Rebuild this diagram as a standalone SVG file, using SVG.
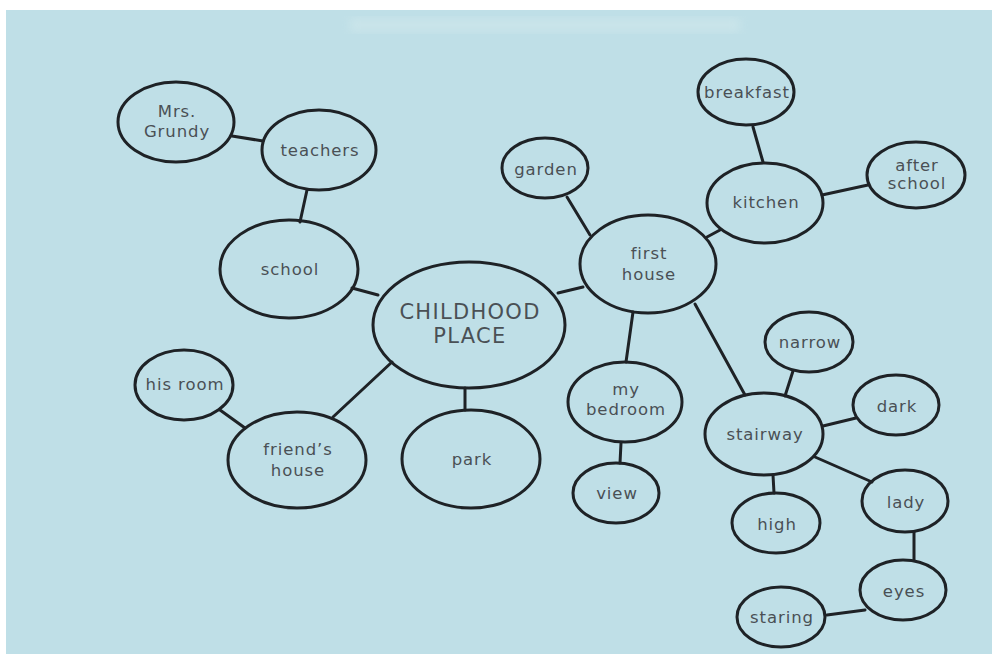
<svg xmlns="http://www.w3.org/2000/svg" width="992" height="658" viewBox="0 0 992 658">
<defs>
<style>
.n ellipse{fill:none;stroke:#1e2226;stroke-width:3}
.n text{font-family:"DejaVu Sans","Liberation Sans",sans-serif;font-size:16.5px;letter-spacing:0.9px;fill:#4a5055;text-anchor:middle;dominant-baseline:central}
.big text{font-size:21px;letter-spacing:1.3px}
#edges line{stroke:#1e2226;stroke-width:3;stroke-linecap:round}
</style>
<filter id="blur"><feGaussianBlur stdDeviation="5"/></filter>
</defs>
<rect x="0" y="0" width="992" height="658" fill="#ffffff"/>
<rect x="6" y="10" width="986" height="644" fill="#bfdfe7"/>
<rect x="350" y="18" width="390" height="14" fill="#dff0f0" opacity="0.35" filter="url(#blur)"/>
<g id="edges">
<line x1="232" y1="136" x2="263" y2="141"/>
<line x1="307" y1="190" x2="300" y2="222"/>
<line x1="352" y1="288" x2="378" y2="295"/>
<line x1="392" y1="362" x2="333" y2="417"/>
<line x1="465" y1="388" x2="465" y2="410"/>
<line x1="220" y1="410" x2="245" y2="428"/>
<line x1="558" y1="293" x2="583" y2="287"/>
<line x1="567" y1="197" x2="590" y2="235"/>
<line x1="707" y1="237" x2="720" y2="230"/>
<line x1="753" y1="127" x2="763" y2="162"/>
<line x1="822" y1="195" x2="868" y2="185"/>
<line x1="633" y1="312" x2="626" y2="362"/>
<line x1="695" y1="304" x2="745" y2="395"/>
<line x1="621" y1="443" x2="620" y2="463"/>
<line x1="793" y1="371" x2="785" y2="396"/>
<line x1="823" y1="426" x2="856" y2="418"/>
<line x1="773" y1="475" x2="774" y2="493"/>
<line x1="815" y1="457" x2="872" y2="482"/>
<line x1="914" y1="532" x2="914" y2="560"/>
<line x1="865" y1="610" x2="827" y2="615"/>
</g>
<g id="mrs-grundy" class="n"><ellipse cx="176" cy="122" rx="58" ry="40"/><text x="177" y="111">Mrs.</text><text x="177" y="131">Grundy</text></g>
<g id="teachers" class="n"><ellipse cx="319" cy="150" rx="57" ry="40"/><text x="320" y="150">teachers</text></g>
<g id="school" class="n"><ellipse cx="289" cy="269" rx="69" ry="49"/><text x="290" y="269">school</text></g>
<g id="childhood-place" class="n big"><ellipse cx="469" cy="325" rx="96" ry="63"/><text x="470" y="312">CHILDHOOD</text><text x="470" y="336">PLACE</text></g>
<g id="his-room" class="n"><ellipse cx="184" cy="385" rx="49" ry="35"/><text x="185" y="384">his room</text></g>
<g id="friends-house" class="n"><ellipse cx="297" cy="460" rx="69" ry="48"/><text x="298" y="449">friend’s</text><text x="298" y="470">house</text></g>
<g id="park" class="n"><ellipse cx="471" cy="459" rx="69" ry="49"/><text x="472" y="459">park</text></g>
<g id="garden" class="n"><ellipse cx="545" cy="168" rx="43" ry="30"/><text x="546" y="169">garden</text></g>
<g id="breakfast" class="n"><ellipse cx="746" cy="92" rx="48" ry="33"/><text x="747" y="92">breakfast</text></g>
<g id="kitchen" class="n"><ellipse cx="765" cy="203" rx="58" ry="40"/><text x="766" y="202">kitchen</text></g>
<g id="after-school" class="n"><ellipse cx="916" cy="175" rx="49" ry="33"/><text x="917" y="165">after</text><text x="917" y="183">school</text></g>
<g id="first-house" class="n"><ellipse cx="648" cy="264" rx="68" ry="49"/><text x="649" y="253">first</text><text x="649" y="274">house</text></g>
<g id="my-bedroom" class="n"><ellipse cx="625" cy="402" rx="57" ry="40"/><text x="626" y="389">my</text><text x="626" y="409">bedroom</text></g>
<g id="view" class="n"><ellipse cx="616" cy="493" rx="43" ry="30"/><text x="617" y="493">view</text></g>
<g id="narrow" class="n"><ellipse cx="809" cy="342" rx="44" ry="30"/><text x="810" y="342">narrow</text></g>
<g id="stairway" class="n"><ellipse cx="764" cy="434" rx="59" ry="41"/><text x="765" y="434">stairway</text></g>
<g id="dark" class="n"><ellipse cx="896" cy="405" rx="43" ry="30"/><text x="897" y="406">dark</text></g>
<g id="high" class="n"><ellipse cx="776" cy="523" rx="44" ry="30"/><text x="777" y="524">high</text></g>
<g id="lady" class="n"><ellipse cx="905" cy="501" rx="43" ry="31"/><text x="906" y="502">lady</text></g>
<g id="eyes" class="n"><ellipse cx="903" cy="590" rx="43" ry="30"/><text x="904" y="591">eyes</text></g>
<g id="staring" class="n"><ellipse cx="781" cy="617" rx="44" ry="30"/><text x="782" y="617">staring</text></g>
</svg>
